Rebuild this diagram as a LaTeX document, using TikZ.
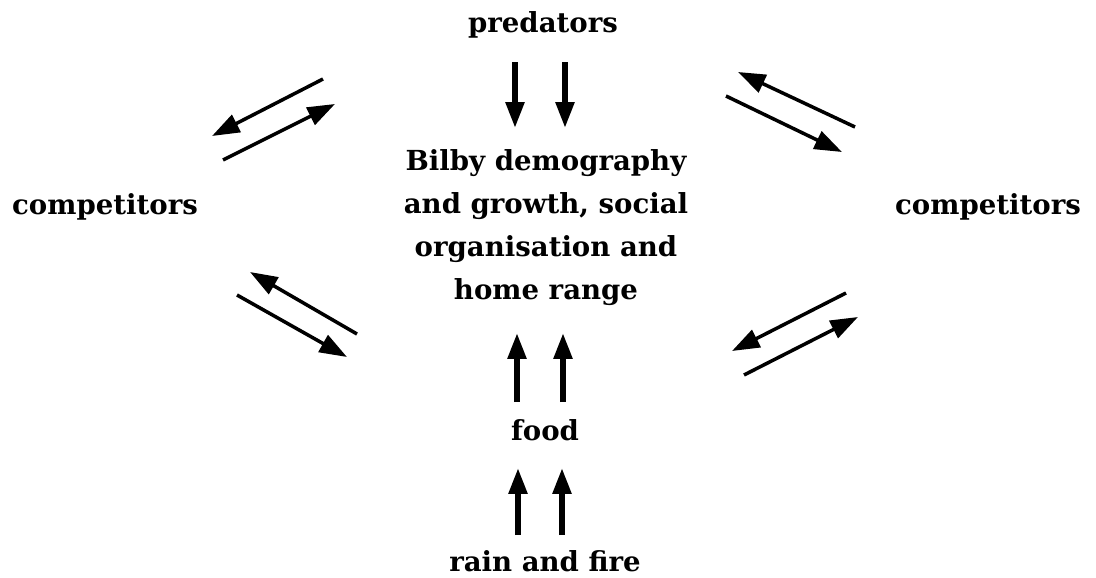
\documentclass[tikz,border=0pt]{standalone}
\usepackage{fontspec}
\setmainfont{DejaVu Serif}
\usetikzlibrary{arrows.meta}

\begin{document}
\begin{tikzpicture}[
  x=0.02cm, y=-0.02cm,
  font=\fontsize{15.7}{24.5}\selectfont\bfseries,
  lbl/.style={align=center, inner sep=2pt},
  fl/.style={-{Triangle[length=0.52cm, width=0.36cm]}, line width=3.2pt},
  ech/.style={-{Triangle[length=0.55cm, width=0.38cm]}, line width=2pt},
]
\useasboundingbox (0,0) rectangle (1096,578);
% les textes
\node[lbl] (pred) at (543,25) {predators};
\node[lbl] (bilby) at (546,228)
  {Bilby demography\\and growth, social\\organisation and\\home range};
\node[lbl] (compg) at (105,207) {competitors};
\node[lbl] (compd) at (988,207) {competitors};
\node[lbl] (food) at (545,430) {food};
\node[lbl] (rain) at (545,561) {rain and fire};
% les flèches verticales
\coordinate (p1) at (515,62);  \coordinate (b1) at (515,128);
\coordinate (p2) at (565,62);  \coordinate (b2) at (565,128);
\coordinate (f1) at (517,402); \coordinate (h1) at (517,333);
\coordinate (f2) at (563,402); \coordinate (h2) at (563,333);
\coordinate (r1) at (518,535); \coordinate (o1) at (518,468);
\coordinate (r2) at (562,535); \coordinate (o2) at (562,468);
\draw[fl] (p1) -- (b1);
\draw[fl] (p2) -- (b2);
\draw[fl] (f1) -- (h1);
\draw[fl] (f2) -- (h2);
\draw[fl] (r1) -- (o1);
\draw[fl] (r2) -- (o2);
% les échanges avec les concurrents
\coordinate (hg1) at (323,79);  \coordinate (hg2) at (212,136);
\coordinate (hg3) at (223,160); \coordinate (hg4) at (335,104);
\coordinate (hd1) at (855,127); \coordinate (hd2) at (738,72);
\coordinate (hd3) at (726,96);  \coordinate (hd4) at (842,152);
\coordinate (bg1) at (357,334); \coordinate (bg2) at (250,272);
\coordinate (bg3) at (237,295); \coordinate (bg4) at (347,357);
\coordinate (bd1) at (846,293); \coordinate (bd2) at (732,351);
\coordinate (bd3) at (744,375); \coordinate (bd4) at (858,317);
\draw[ech] (hg1) -- (hg2);
\draw[ech] (hg3) -- (hg4);
\draw[ech] (hd1) -- (hd2);
\draw[ech] (hd3) -- (hd4);
\draw[ech] (bg1) -- (bg2);
\draw[ech] (bg3) -- (bg4);
\draw[ech] (bd1) -- (bd2);
\draw[ech] (bd3) -- (bd4);
\end{tikzpicture}
\end{document}
